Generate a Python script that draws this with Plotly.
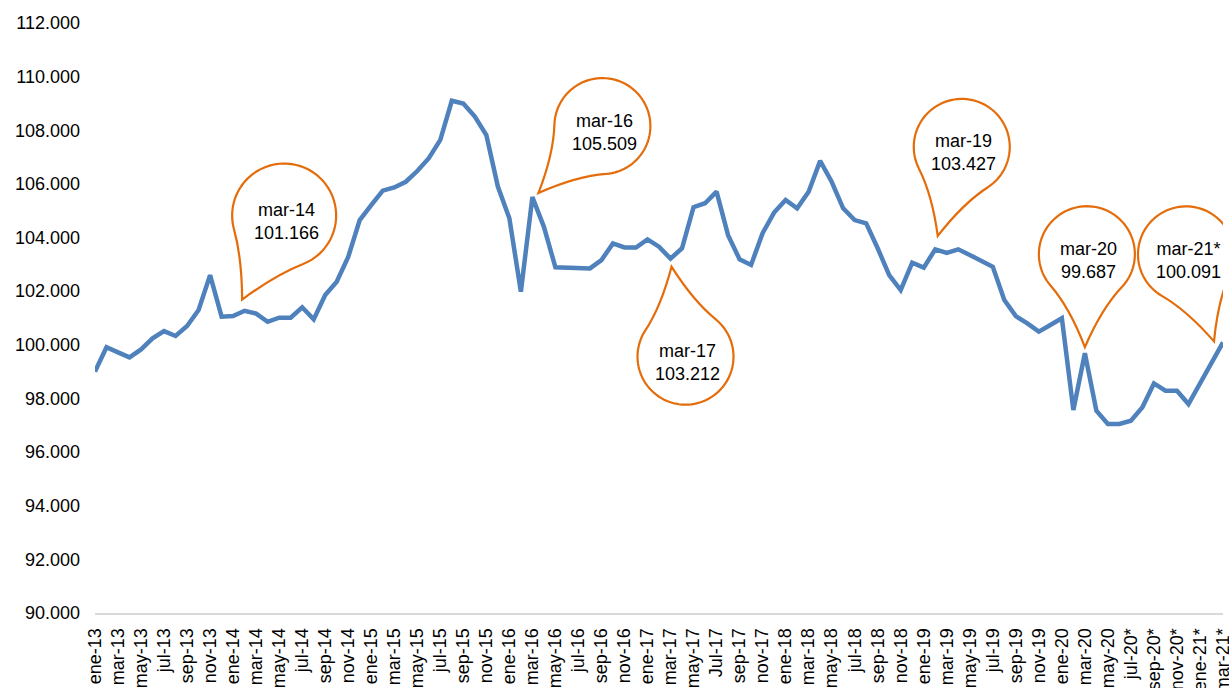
import numpy as np
import plotly.graph_objects as go

# ---------------- data ----------------
labels_2013 = ["ene-13", "feb-13", "mar-13", "abr-13", "may-13", "jun-13", "jul-13", "ago-13", "sep-13", "oct-13", "nov-13", "dic-13"]
labels_2014 = ["ene-14", "feb-14", "mar-14", "abr-14", "may-14", "jun-14", "jul-14", "ago-14", "sep-14", "oct-14", "nov-14", "dic-14"]
labels_2015 = ["ene-15", "feb-15", "mar-15", "abr-15", "may-15", "jun-15", "jul-15", "ago-15", "sep-15", "oct-15", "nov-15", "dic-15"]
labels_2016 = ["ene-16", "feb-16", "mar-16", "abr-16", "may-16", "jun-16", "jul-16", "ago-16", "sep-16", "oct-16", "nov-16", "dic-16"]
labels_2017 = ["ene-17", "feb-17", "mar-17", "abr-17", "may-17", "jun-17", "Jul-17", "ago-17", "sep-17", "oct-17", "nov-17", "dic-17"]
labels_2018 = ["ene-18", "feb-18", "mar-18", "abr-18", "may-18", "jun-18", "jul-18", "ago-18", "sep-18", "oct-18", "nov-18", "dic-18"]
labels_2019 = ["ene-19", "feb-19", "mar-19", "abr-19", "may-19", "jun-19", "jul-19", "ago-19", "sep-19", "oct-19", "nov-19", "dic-19"]
labels_2020 = ["ene-20", "feb-20", "mar-20", "abr-20", "may-20", "jun-20", "jul-20*", "ago-20*", "sep-20*", "oct-20*", "nov-20*", "dic-20*"]
labels_2021 = ["ene-21*", "feb-21*", "mar-21*"]

values_2013 = [99.00, 99.91, 99.72, 99.53, 99.83, 100.24, 100.51, 100.33, 100.70, 101.30, 102.60, 101.05]
values_2014 = [101.07, 101.27, 101.166, 100.86, 101.01, 101.01, 101.40, 100.95, 101.86, 102.35, 103.28, 104.65]
values_2015 = [105.21, 105.75, 105.87, 106.08, 106.48, 106.96, 107.64, 109.10, 109.00, 108.51, 107.82, 105.90]
values_2016 = [104.72, 101.98, 105.509, 104.40, 102.89, 102.88, 102.85, 102.85, 103.16, 103.78, 103.63, 103.63]
values_2017 = [103.93, 103.66, 103.212, 103.60, 105.13, 105.28, 105.71, 104.09, 103.19, 102.98, 104.16, 104.93]
values_2018 = [105.40, 105.09, 105.71, 106.86, 106.08, 105.09, 104.65, 104.53, 103.60, 102.60, 102.04, 103.06]
values_2019 = [102.88, 103.56, 103.427, 103.56, 103.35, 103.12, 102.91, 101.67, 101.07, 100.80, 100.49, 100.74]
values_2020 = [100.99, 97.57, 99.687, 97.54, 97.05, 97.05, 97.17, 97.67, 98.56, 98.29, 98.29, 97.79]
values_2021 = [98.56, 99.33, 100.091]

callout_labels = ["mar-14", "mar-16", "mar-17", "mar-19", "mar-20", "mar-21*"]

y_ticks = [90, 92, 94, 96, 98, 100, 102, 104, 106, 108, 110, 112]

labels = (labels_2013 + labels_2014 + labels_2015 + labels_2016 + labels_2017
          + labels_2018 + labels_2019 + labels_2020 + labels_2021)
values = (values_2013 + values_2014 + values_2015 + values_2016 + values_2017
          + values_2018 + values_2019 + values_2020 + values_2021)
idx = list(range(len(labels)))

# ---------------- style ----------------
BLUE = "#4F81BD"
ORANGE = "#E46C0A"
FONT = "Helvetica, Arial, 'Liberation Sans', sans-serif"

# callout geometry in screen pixels (y down) relative to the data point:
# tip offset, circle-centre offset, radius
callout_style = {
    "mar-14": dict(tip=(-14, -14), center=(28, -98), r=52),
    "mar-16": dict(tip=(6, -4), center=(70, -71), r=48),
    "mar-17": dict(tip=(1, 8), center=(15, 98), r=48),
    "mar-19": dict(tip=(-9, -17), center=(15, -106), r=48),
    "mar-20": dict(tip=(0, -6), center=(2, -99), r=48),
    "mar-21*": dict(tip=(-9, -1), center=(-37, -88), r=48),
}


def teardrop_path(tip, center, r, half_deg=48, k=0.42, n=72):
    tx, ty = tip
    cx, cy = center
    phi = np.arctan2(ty - cy, tx - cx)
    half = np.radians(half_deg)
    a1 = phi + half
    a2 = a1 + 2 * np.pi - 2 * half
    angs = np.linspace(a1, a2, n)
    pts = [(cx + r * np.cos(a), cy + r * np.sin(a)) for a in angs]

    def ctrl(b, a):
        t = np.array([-np.sin(a), np.cos(a)])
        d = np.array([tx - b[0], ty - b[1]])
        if np.dot(t, d) < 0:
            t = -t
        L = k * np.linalg.norm(d)
        return (b[0] + t[0] * L, b[1] + t[1] * L)

    b1, b2 = pts[0], pts[-1]
    c1, c2 = ctrl(b1, a1), ctrl(b2, a2)

    def f(p):
        return f"{p[0]:.2f},{-p[1]:.2f}"

    s = f"M{f(tip)} Q{f(c1)} {f(b1)}"
    for p in pts[1:]:
        s += f" L{f(p)}"
    s += f" Q{f(c2)} {f(tip)} Z"
    return s


fig = go.Figure()
fig.add_trace(go.Scatter(
    x=idx, y=values, mode="lines",
    line=dict(color=BLUE, width=4.5),
    hoverinfo="skip", showlegend=False,
))

for lab in callout_labels:
    i = labels.index(lab)
    v = values[i]
    st = callout_style[lab]
    fig.add_shape(
        type="path", xref="x", yref="y",
        xsizemode="pixel", ysizemode="pixel",
        xanchor=i, yanchor=v,
        path=teardrop_path(st["tip"], st["center"], st["r"]),
        line=dict(color=ORANGE, width=2.2),
        fillcolor="rgba(0,0,0,0)",
        layer="above",
    )
    fig.add_annotation(
        x=i, y=v, xref="x", yref="y",
        text=f"{lab}<br>{v:.3f}",
        showarrow=False,
        xshift=st["center"][0] + 2,
        yshift=-(st["center"][1] + 6),
        font=dict(family=FONT, size=18, color="#000000"),
        align="center",
    )

fig.update_layout(
    width=1229, height=688,
    margin=dict(l=95, r=6, t=23, b=75),
    paper_bgcolor="white", plot_bgcolor="white",
    font=dict(family=FONT, size=18, color="#000000"),
    showlegend=False,
)
fig.update_xaxes(
    range=[0, len(labels) - 1],
    tickmode="array", tickvals=idx[::2], ticktext=labels[::2],
    tickangle=-90, showgrid=False, zeroline=False,
    showline=True, linecolor="#D9D9D9", linewidth=2,
    ticks="", automargin=False, ticklabelstandoff=6,
    ticklabeloverflow="allow",
    tickfont=dict(family=FONT, size=18, color="#000000"),
)
fig.update_yaxes(
    range=[90, 112], tickmode="array", tickvals=y_ticks,
    tickformat=".3f", showgrid=False, zeroline=False, showline=False,
    ticks="", automargin=False, ticklabelstandoff=14,
    tickfont=dict(family=FONT, size=18, color="#000000"),
)

fig.write_html("out.html", config={"displayModeBar": False},
               post_script="document.body.style.margin='0';")
